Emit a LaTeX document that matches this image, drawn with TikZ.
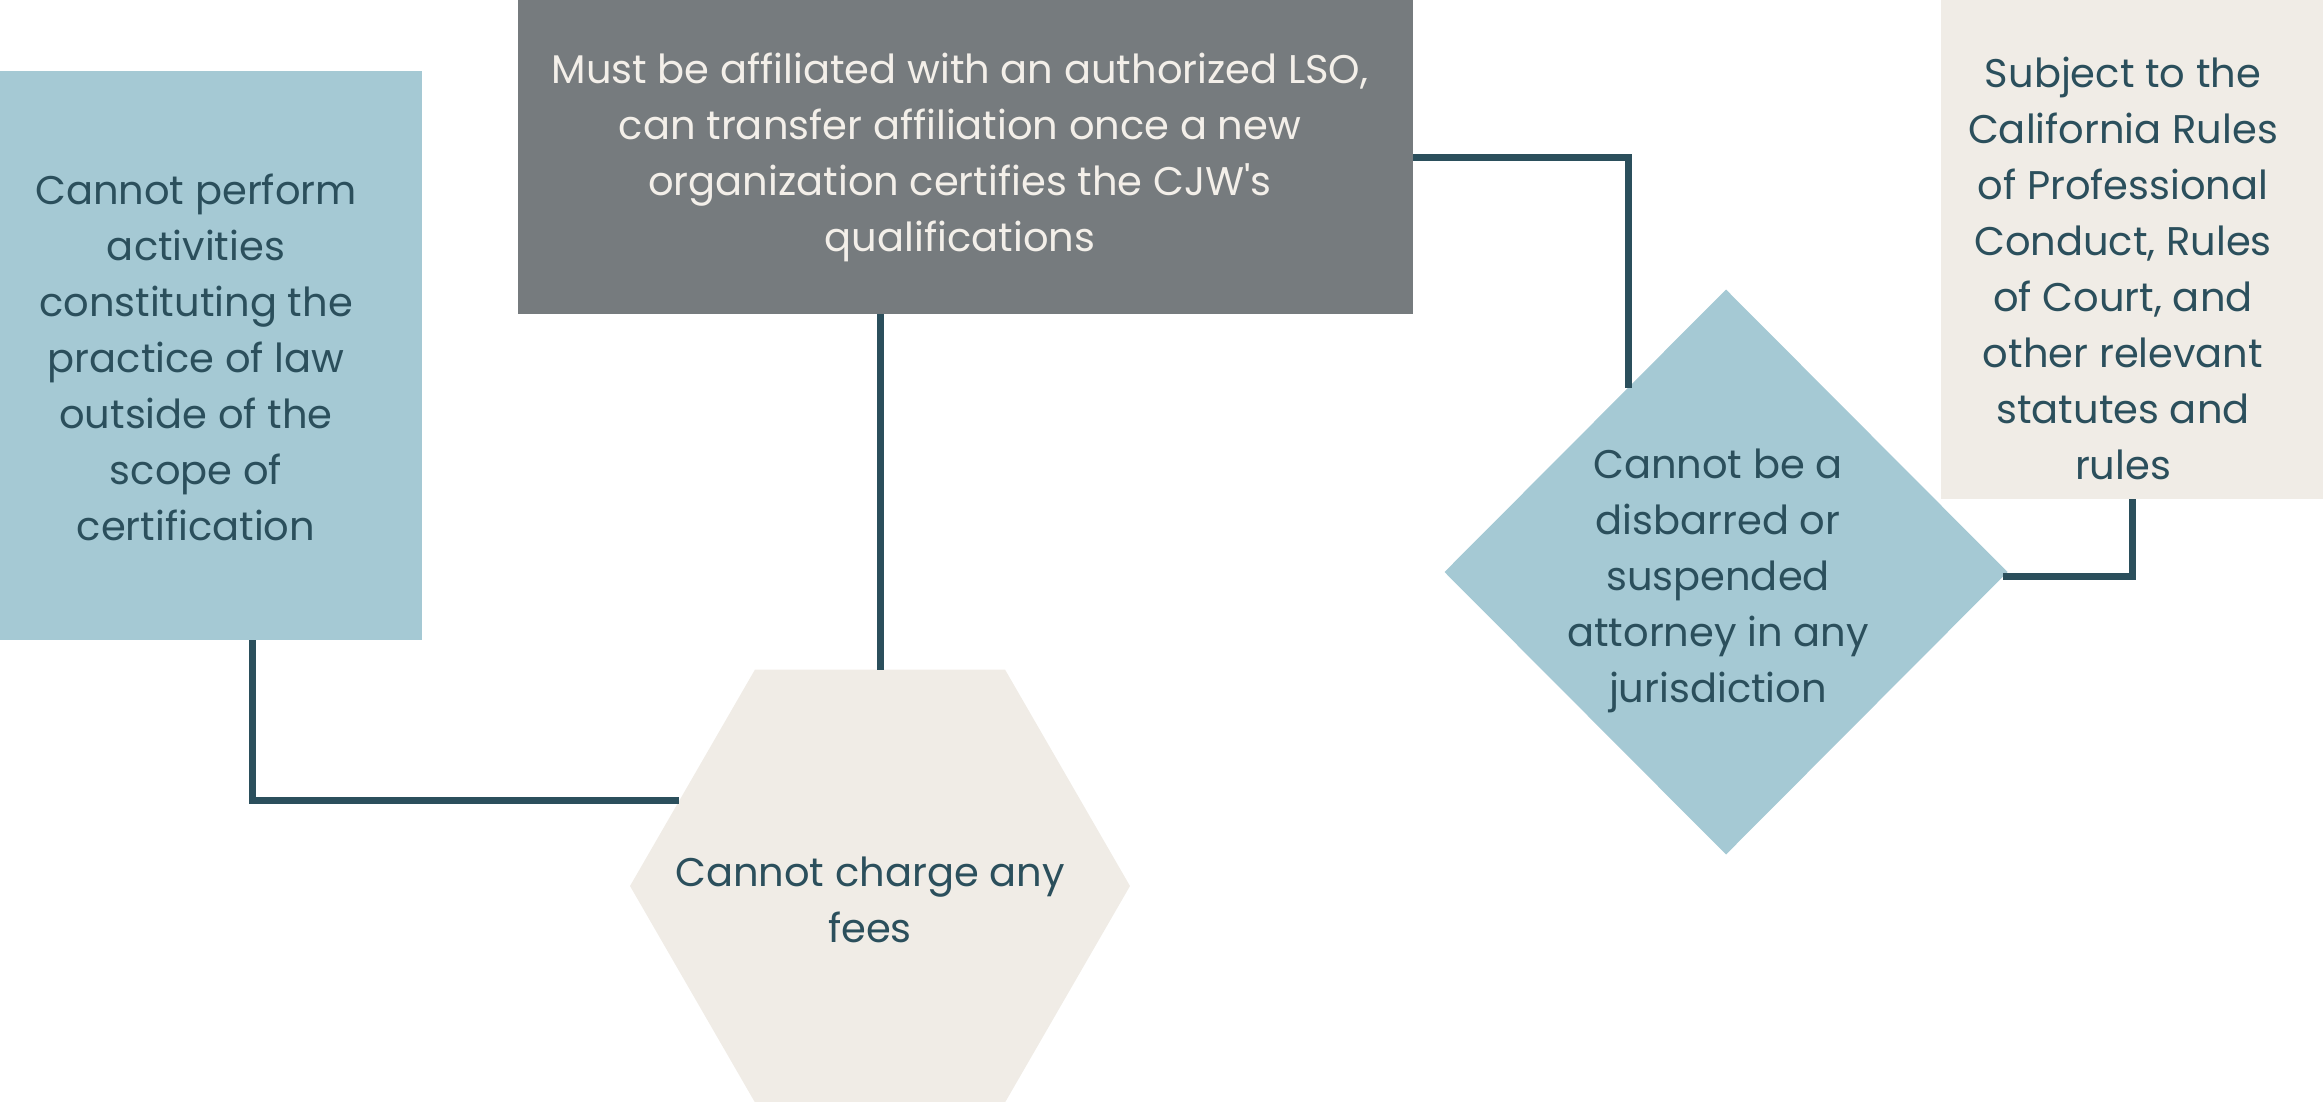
\documentclass[tikz,border=0pt]{standalone}
\usepackage{fontspec}
\setmainfont{Poppins}[Ligatures=TeXOff]
\usetikzlibrary{shapes.geometric}
\definecolor{cblue}{HTML}{A5C9D4}
\definecolor{cgray}{HTML}{767B7E}
\definecolor{cbeige}{HTML}{F0ECE6}
\definecolor{cteal}{HTML}{2B4F5C}
\definecolor{clight}{HTML}{F3EFE9}
\tikzset{
  shapebox/.style={inner sep=0pt, outer sep=0pt, draw=none, anchor=north west},
  lbl/.style={align=center, text=cteal, font=\fontsize{40}{56}\selectfont, inner sep=0pt},
  lnk/.style={draw=cteal, line width=7pt}
}
\begin{document}
\begin{tikzpicture}[x=1pt,y=-1pt]
\useasboundingbox (0,0) rectangle (2323,1101);
% shapes
\node[shapebox, fill=cblue, minimum width=422pt, minimum height=569pt] (lb) at (0,71) {};
\node[shapebox, fill=cgray, minimum width=895pt, minimum height=314pt] (gb) at (518,0) {};
\node[shapebox, fill=cbeige, minimum width=382pt, minimum height=499pt] (rb) at (1941,0) {};
\node[regular polygon, regular polygon sides=6, minimum size=500pt, fill=cbeige, inner sep=0pt, outer sep=0pt] (hex) at (880,886) {};
\node[diamond, minimum width=563pt, minimum height=565pt, fill=cblue, inner sep=0pt, outer sep=0pt] (dia) at (1726,572) {};
% connectors
\draw[lnk] ([xshift=41pt]lb.south) |- (hex.157.7);
\draw[lnk] (gb.south -| hex.north) -- (hex.north);
\draw[lnk] (gb.east) -| (dia.118.4);
\draw[lnk] (rb.south) |- (dia.-1.5);
% labels
\node[lbl] (tlb) at (196,357) {Cannot perform\\activities\\constituting the\\practice of law\\outside of the\\scope of\\certification};
\node[lbl, text=clight] (tgb) at (960,157) {Must be affiliated with an authorized LSO,\\can transfer affiliation once a new\\organization certifies the CJW's\\qualifications};
\node[lbl] (thex) at (870,900) {Cannot charge any\\fees};
\node[lbl] (tdia) at (1718,581) {Cannot be a\\disbarred or\\suspended\\attorney in any\\jurisdiction};
\node[lbl] (trb) at (2123,268) {Subject to the\\California Rules\\of Professional\\Conduct, Rules\\of Court, and\\other relevant\\statutes and\\rules};
\end{tikzpicture}
\end{document}
